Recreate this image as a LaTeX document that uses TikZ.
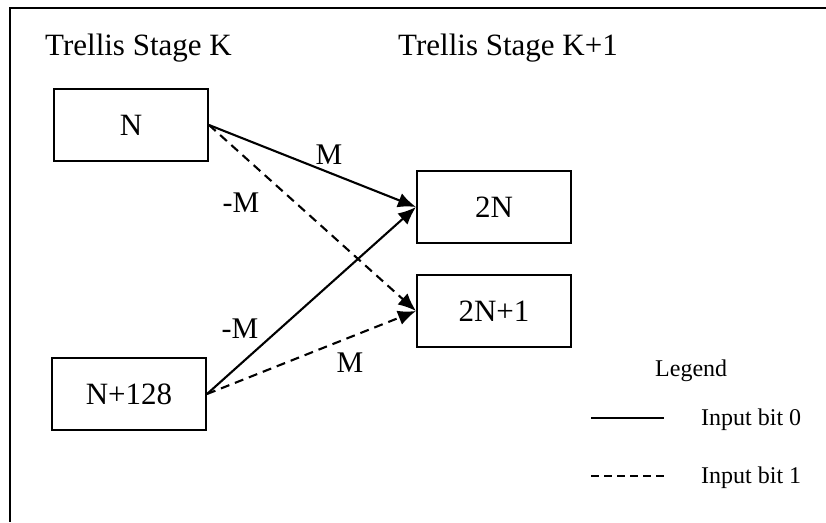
\documentclass[tikz,border=0pt]{standalone}
\usepackage{fontspec}
\setmainfont{Liberation Serif}
\usetikzlibrary{arrows.meta}
\begin{document}
\begin{tikzpicture}[x=1pt,y=-1pt,
  state/.style={draw, line width=2pt, minimum width=154pt, minimum height=72pt,
    inner sep=0pt, font=\fontsize{31}{37}\selectfont},
  title/.style={anchor=base west, inner sep=0pt, font=\fontsize{31}{37}\selectfont},
  elabel/.style={inner sep=0pt, font=\fontsize{30}{36}\selectfont},
  legtext/.style={anchor=base west, inner sep=0pt, font=\fontsize{24}{29}\selectfont},
  bit0/.style={line width=2.1pt},
  bit1/.style={line width=2.1pt, dash pattern=on 9pt off 6pt},
  arr/.style={-{Latex[length=18pt,width=15pt]}}]
  \useasboundingbox (0,0) rectangle (826,522);

  % frame
  \coordinate (fr) at (826,8);
  \coordinate (fc) at (10,8);
  \coordinate (fb) at (10,522);
  \draw[line width=2.4pt] (fr) -- (fc) -- (fb);

  % stage titles
  \node[title] (tk) at (45,55) {Trellis Stage K};
  \node[title] (tk1) at (398,55) {Trellis Stage K+1};

  % states
  \node[state] (n) at (131,125) {N};
  \node[state] (n128) at (129,394) {N+128};
  \node[state] (n2) at (494,207) {2N};
  \node[state] (n21) at (494,311) {2N+1};

  % transitions
  \draw[bit0,arr] (n.east) -- (n2.west);
  \draw[bit1,arr] (n.east) -- (n21.west);
  \draw[bit0,arr] (n128.east) -- (n2.west);
  \draw[bit1,arr] (n128.east) -- (n21.west);

  % branch metrics
  \node[elabel] (m1) at (329,155) {M};
  \node[elabel] (m2) at (241,203) {-M};
  \node[elabel] (m3) at (240,329) {-M};
  \node[elabel] (m4) at (350,363) {M};

  % legend
  \node[legtext] (leg) at (655,376) {Legend};
  \coordinate (l0a) at (591,418);
  \coordinate (l0b) at (664,418);
  \coordinate (l1a) at (591,476);
  \coordinate (l1b) at (664,476);
  \draw[line width=1.8pt] (l0a) -- (l0b);
  \draw[line width=1.8pt, dash pattern=on 8pt off 5pt] (l1a) -- (l1b);
  \node[legtext] (t0) at (701,425) {Input bit 0};
  \node[legtext] (t1) at (701,483) {Input bit 1};
\end{tikzpicture}
\end{document}
